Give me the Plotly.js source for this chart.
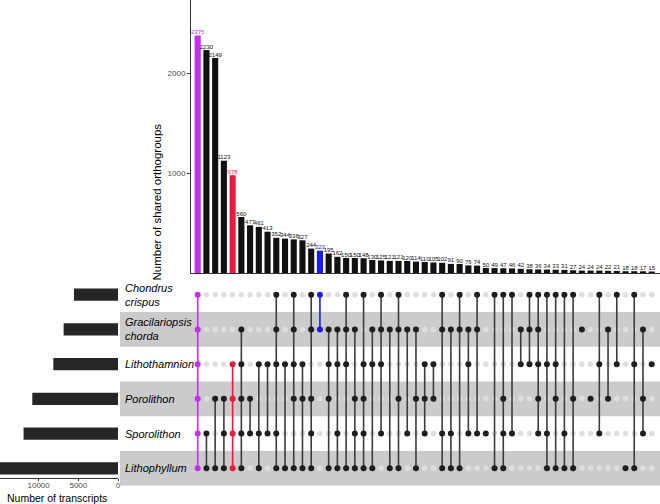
<!DOCTYPE html>
<html>
<head>
<meta charset="utf-8">
<script src="https://cdn.plot.ly/plotly-3.0.1.min.js"></script>
<style>html,body{margin:0;padding:0;background:#fff;}#chart{width:660px;height:504px;}</style>
</head>
<body>
<div id="chart"></div>
<script>
// ---- data ----
const setNames = ["Chondrus<br>crispus", "Gracilariopsis<br>chorda", "Lithothamnion", "Porolithon", "Sporolithon", "Lithophyllum"];
const setKeys = ["C", "G", "Lt", "P", "S", "Lp"];
const setSizes = [5550, 6850, 8150, 10800, 11900, 15500];

const counts = [2375, 2230, 2149, 1123, 978, 560, 477, 461, 413, 352, 344, 336, 327, 244, 223, 195, 162, 150, 150, 148,
  130, 125, 121, 121, 120, 114, 110, 105, 102, 91, 90, 76, 74, 50, 49, 47, 46, 42, 38, 36,
  34, 33, 31, 27, 24, 24, 24, 22, 21, 18, 18, 17, 15];

const combos = [
  "C G Lt P S Lp", "S Lp", "P Lp", "P S Lp", "Lt P S Lp", "G Lt P S Lp", "P S", "Lt S Lp", "Lt S", "C G Lt S Lp",
  "Lt Lp", "C G Lt P Lp", "Lt P Lp", "C G P S Lp", "C G", "G Lt P Lp", "G Lt S Lp", "C G Lt Lp", "G P S Lp", "C Lt P S Lp",
  "G Lt Lp", "C G Lt S", "G Lp", "C G P Lp", "G S", "G P Lp", "Lt P S", "Lt P", "C G S Lp", "G S Lp",
  "C G Lp", "G Lt S", "C G S", "S", "C Lp", "C P S Lp", "C S", "G Lt", "C G Lt", "C G Lt P S",
  "C Lt S Lp", "C Lt P Lp", "C S Lp", "C P Lp", "G", "P", "C Lt S", "G P", "C Lt", "Lp",
  "C Lt Lp", "G P S", "Lt"
];

// ---- styling ----
const W = 660, H = 504;
const FONT = "Liberation Sans, Arial, Helvetica, sans-serif";
const PURPLE = "#c42ff0", RED = "#ec1a3c", BLUE = "#1c1ce6", DARK = "#111111", LINE = "#3c3c3c";
const highlight = {0: PURPLE, 4: RED, 14: BLUE};
const rowVal = k => 6 - k; // Chondrus at top

// group every intersection column by its colour
const groups = {};
counts.forEach((c, i) => {
  const col = highlight[i] || DARK;
  if (!groups[col]) groups[col] = {bx: [], by: [], lx: [], ly: [], dx: [], dy: []};
  const g = groups[col];
  g.bx.push(i + 1); g.by.push(c);
  const vals = combos[i].split(" ").map(k => rowVal(setKeys.indexOf(k)));
  const mn = Math.min(...vals), mx = Math.max(...vals);
  if (vals.length > 1) { g.lx.push(i + 1, i + 1, null); g.ly.push(mn, mx, null); }
  vals.forEach(v => { g.dx.push(i + 1); g.dy.push(v); });
});

const traces = [];
Object.keys(groups).forEach(col => {
  const g = groups[col];
  traces.push({type: "bar", x: g.bx, y: g.by, xaxis: "x", yaxis: "y",
    marker: {color: col, line: {width: 0}}, width: 0.7, hoverinfo: "none"});
  traces.push({type: "scatter", mode: "text", x: g.bx, y: g.by, xaxis: "x", yaxis: "y",
    text: g.by.map(String), textposition: "top center", cliponaxis: false,
    textfont: {size: 6, color: col, family: FONT}, hoverinfo: "none"});
});

// inactive dots
const ix = [], iy = [];
combos.forEach((c, i) => {
  const mem = c.split(" ");
  setKeys.forEach((k, j) => { if (!mem.includes(k)) { ix.push(i + 1); iy.push(rowVal(j)); } });
});
traces.push({type: "scatter", mode: "markers", x: ix, y: iy, xaxis: "x2", yaxis: "y2",
  marker: {size: 5.5, color: "#dedede"}, hoverinfo: "none"});

Object.keys(groups).forEach(col => {
  const g = groups[col];
  traces.push({type: "scatter", mode: "lines", x: g.lx, y: g.ly, xaxis: "x2", yaxis: "y2",
    line: {color: col === DARK ? LINE : col, width: 1.6}, hoverinfo: "none", connectgaps: false});
});
Object.keys(groups).forEach(col => {
  const g = groups[col];
  traces.push({type: "scatter", mode: "markers", x: g.dx, y: g.dy, xaxis: "x2", yaxis: "y2",
    marker: {size: 6, color: col === DARK ? "#1e1e1e" : col}, hoverinfo: "none"});
});

// set size bars
traces.push({type: "bar", orientation: "h", x: setSizes, y: setKeys.map((k, j) => rowVal(j)),
  xaxis: "x3", yaxis: "y3", width: 0.35, marker: {color: "#262626"}, hoverinfo: "none"});

const px = v => v / W, py = v => 1 - v / H;
const xr = [0.233, 53.95];

const shapes = [1, 3, 5].map(r => ({
  type: "rect", xref: "paper", yref: "y2", x0: px(120), x1: 1,
  y0: rowVal(r) - 0.5, y1: rowVal(r) + 0.5,
  fillcolor: "#cbcbcb", line: {width: 0}, layer: "below"
}));

const annotations = setNames.map((n, j) => ({
  xref: "paper", yref: "y2", x: px(123), y: rowVal(j), xanchor: "left", yanchor: "middle",
  text: n, align: "left", showarrow: false,
  font: {size: 11, color: "#000", family: FONT, style: "italic"}
}));
annotations.push({
  xref: "paper", yref: "paper", x: px(148), y: py(122), textangle: -90, showarrow: false,
  text: "Number of shared orthogroups", font: {size: 11.5, color: "#000", family: FONT}
});
annotations.push({
  xref: "paper", yref: "paper", x: px(57), y: py(505), xanchor: "center", yanchor: "bottom", showarrow: false,
  borderpad: 0, text: "Number of transcripts", font: {size: 10.5, color: "#000", family: FONT}
});

const layout = {
  width: W, height: H, margin: {l: 0, r: 0, t: 0, b: 0},
  paper_bgcolor: "#fff", plot_bgcolor: "rgba(0,0,0,0)", showlegend: false,
  font: {family: FONT, color: "#000"},
  xaxis: {domain: [px(191), 1], range: xr, anchor: "y", showline: true, linecolor: "#333", linewidth: 1,
    showticklabels: false, ticks: "", showgrid: false, zeroline: false},
  yaxis: {domain: [py(273), 1], range: [0, 2730], anchor: "x", showline: true, linecolor: "#333", linewidth: 1,
    ticks: "outside", ticklen: 3, tickcolor: "#333", tickvals: [1000, 2000], ticktext: ["1000", "2000"],
    tickfont: {size: 8, color: "#4d4d4d"}, showgrid: false, zeroline: false},
  xaxis2: {domain: [px(191), 1], range: xr, anchor: "y2", visible: false},
  yaxis2: {domain: [py(485.7), py(277.3)], range: [0.5, 6.5], anchor: "x2", visible: false},
  xaxis3: {domain: [0, px(118)], range: [14870, 0], anchor: "y3", showline: true, linecolor: "#333", linewidth: 1,
    ticks: "outside", ticklen: 2, tickcolor: "#333", tickvals: [0, 5000, 10000], ticktext: ["0", "5000", "10000"],
    tickfont: {size: 8, color: "#4d4d4d"}, showgrid: false, zeroline: false, ticklabelstandoff: -3},
  yaxis3: {domain: [py(478), py(277.3)], range: [0.5 + 7.7 / 34.72, 6.5], anchor: "x3", visible: false},
  shapes: shapes, annotations: annotations
};

Plotly.newPlot("chart", traces, layout, {staticPlot: true, displayModeBar: false});
</script>
</body>
</html>
